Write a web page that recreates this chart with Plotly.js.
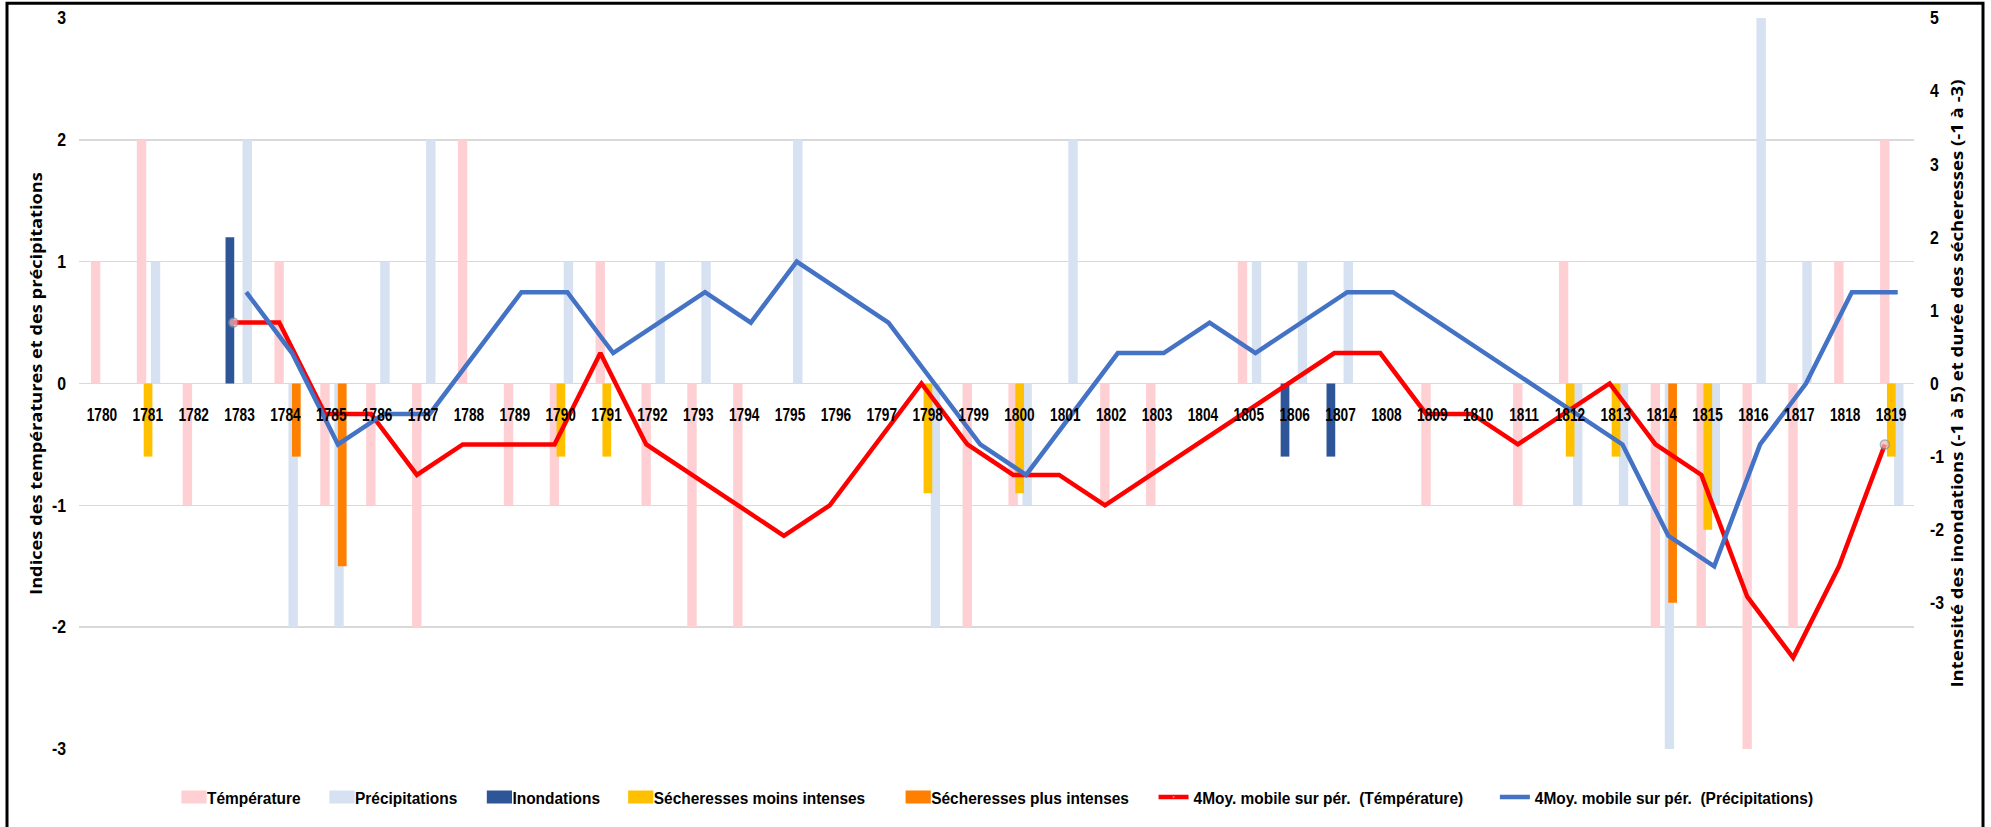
<!DOCTYPE html>
<html>
<head>
<meta charset="utf-8">
<script src="https://cdn.plot.ly/plotly-3.0.1.min.js"></script>
<style>
html, body { margin: 0; padding: 0; background: #ffffff; }
#chart { width: 1991px; height: 827px; }
</style>
</head>
<body>
<div id="chart"></div>
<script>
// ---- Data ----
const years = ['1780','1781','1782','1783','1784','1785','1786','1787','1788','1789',
               '1790','1791','1792','1793','1794','1795','1796','1797','1798','1799',
               '1800','1801','1802','1803','1804','1805','1806','1807','1808','1809',
               '1810','1811','1812','1813','1814','1815','1816','1817','1818','1819'];

const temperature = [1, 2, -1, 0, 1, -1, -1, -2, 2, -1,
                     -1, 1, -1, -2, -2, 0, 0, 0, 0, -2,
                     -1, 0, -1, -1, 0, 1, 0, 0, 0, -1,
                     0, -1, 1, 0, -2, -2, -3, -2, 1, 2];

const precipitation = [0, 1, 0, 2, -2, -2, 1, 2, 0, 0,
                       1, 0, 1, 1, 0, 2, 0, 0, -2, 0,
                       -1, 2, 0, 0, 0, 1, 1, 1, 0, 0,
                       0, 0, -1, -1, -3, -1, 3, 1, 0, -1];

const inondations = [null, null, null, 2, null, null, null, null, null, null,
                     null, null, null, null, null, null, null, null, null, null,
                     null, null, null, null, null, null, -1, -1, null, null,
                     null, null, null, null, null, null, null, null, null, null];

const secheressesMoins = [null, -1, null, null, null, null, null, null, null, null,
                          -1, -1, null, null, null, null, null, null, -1.5, null,
                          -1.5, null, null, null, null, null, null, null, null, null,
                          null, null, -1, -1, null, -2, null, null, null, -1];

const secheressesPlus = [null, null, null, null, -1, -2.5, null, null, null, null,
                         null, null, null, null, null, null, null, null, null, null,
                         null, null, null, null, null, null, null, null, null, null,
                         null, null, null, null, -3, null, null, null, null, null];

const moyTemperature = [null, null, null, 0.5, 0.5, -0.25, -0.25, -0.75, -0.5, -0.5,
                        -0.5, 0.25, -0.5, -0.75, -1, -1.25, -1, -0.5, 0, -0.5,
                        -0.75, -0.75, -1, -0.75, -0.5, -0.25, 0, 0.25, 0.25, -0.25,
                        -0.25, -0.5, -0.25, 0, -0.5, -0.75, -1.75, -2.25, -1.5, -0.5];

const moyPrecipitation = [null, null, null, 0.75, 0.25, -0.5, -0.25, -0.25, 0.25, 0.75,
                          0.75, 0.25, 0.5, 0.75, 0.5, 1, 0.75, 0.5, 0, -0.5,
                          -0.75, -0.25, 0.25, 0.25, 0.5, 0.25, 0.5, 0.75, 0.75, 0.5,
                          0.25, 0, -0.25, -0.5, -1.25, -1.5, -0.5, 0, 0.75, 0.75];

const leftTickVals = [-3, -2, -1, 0, 1, 2, 3];
const leftTickText = ['-3', '-2', '-1', '0', '1', '2', '3'];
const rightTickVals = [-3, -2, -1, 0, 1, 2, 3, 4, 5];
const rightTickText = ['-3', '-2', '-1', '0', '1', '2', '3', '4', '5'];

// ---- Styles ----
const sans = '"Liberation Sans", Arial, sans-serif';
const titleFont = { family: '"Open Sans", "DejaVu Sans", sans-serif', size: 16, color: '#000', weight: 'bold' };

const firstIdx = moyTemperature.findIndex(v => v !== null);
const lastIdx = moyTemperature.length - 1;
const endMarkerSize = moyTemperature.map((v, i) => (i === firstIdx || i === lastIdx) ? 9 : 0);
const endMarkerLine = moyTemperature.map((v, i) => (i === firstIdx || i === lastIdx) ? 1.5 : 0);

const traces = [
  { type: 'bar', name: 'Témpérature', x: years, y: temperature, xaxis: 'x', yaxis: 'y',
    offset: -0.24, width: 0.205, marker: { color: '#FFD0D3', line: { width: 0 } } },
  { type: 'bar', name: 'Précipitations', x: years, y: precipitation, xaxis: 'x', yaxis: 'y',
    offset: 0.066, width: 0.205, marker: { color: '#D6E1F2', line: { width: 0 } } },
  { type: 'bar', name: 'Inondations', x: years, y: inondations, xaxis: 'x', yaxis: 'y2',
    offset: -0.306, width: 0.19, marker: { color: '#2E5597', line: { width: 0 } } },
  { type: 'bar', name: 'Sécheresses moins intenses', x: years, y: secheressesMoins, xaxis: 'x', yaxis: 'y2',
    offset: -0.09, width: 0.19, marker: { color: '#FFC000', line: { width: 0 } } },
  { type: 'bar', name: 'Sécheresses plus intenses', x: years, y: secheressesPlus, xaxis: 'x', yaxis: 'y2',
    offset: 0.143, width: 0.19, marker: { color: '#FF7F00', line: { width: 0 } } },
  { type: 'scatter', mode: 'lines+markers', name: '4Moy. mobile sur pér.  (Témpérature)',
    x: years, y: moyTemperature, xaxis: 'x2', yaxis: 'y',
    line: { color: '#FF0000', width: 4.5 },
    marker: { size: endMarkerSize, color: '#F2B8B8', line: { color: '#7F8FA6', width: endMarkerLine } } },
  { type: 'scatter', mode: 'lines', name: '4Moy. mobile sur pér.  (Précipitations)',
    x: years, y: moyPrecipitation, xaxis: 'x3', yaxis: 'y',
    line: { color: '#4472C4', width: 4.5 } }
];

const plotL = 79, plotR = 1914, plotT = 18, plotB = 757;
const pw = plotR - plotL, ph = plotB - plotT;

const layout = {
  width: 1991, height: 827,
  margin: { l: plotL, r: 1991 - plotR, t: plotT, b: 827 - plotB, pad: 0 },
  paper_bgcolor: '#ffffff', plot_bgcolor: '#ffffff',
  barmode: 'overlay',
  showlegend: true,
  xaxis: {
    type: 'category', range: [-0.5, 39.5], anchor: 'free', position: 0.5,
    showgrid: false, zeroline: false, showline: false, ticks: '',
    tickfont: { family: sans, size: 18, color: '#000', weight: 'bold' },
    ticklabelstandoff: 19, tickangle: 0
  },
  xaxis2: { type: 'category', overlaying: 'x', anchor: 'y', range: [-0.5 + 0.135, 39.5 + 0.135], visible: false },
  xaxis3: { type: 'category', overlaying: 'x', anchor: 'y', range: [-0.5 - 0.145, 39.5 - 0.145], visible: false },
  yaxis: {
    range: [-3, 3], tickmode: 'array', tickvals: leftTickVals, ticktext: leftTickText,
    showgrid: true, gridcolor: '#D9D9D9', gridwidth: 1.5, zeroline: false, showline: false, ticks: '',
    tickfont: { family: sans, size: 18, color: '#000', weight: 'bold' },
    ticklabelstandoff: 12,
    title: { text: 'Indices des températures et des précipitations', font: titleFont, standoff: 3 }
  },
  yaxis2: {
    range: [-5, 5], tickmode: 'array', tickvals: rightTickVals, ticktext: rightTickText,
    overlaying: 'y', side: 'right', anchor: 'x',
    showgrid: false, zeroline: false, showline: false, ticks: '',
    tickfont: { family: sans, size: 18, color: '#000', weight: 'bold' },
    ticklabelstandoff: 15,
    title: { text: 'Intensité des inondations (-1 à 5) et durée des sécheresses (-1 à -3)', font: titleFont, standoff: 0 }
  },
  legend: {
    orientation: 'h', x: 0.5 + 10 / pw, xanchor: 'center', y: (plotB - 806) / ph, yanchor: 'middle',
    font: { family: sans, size: 17, color: '#000', weight: 'bold' },
    bgcolor: 'rgba(0,0,0,0)', traceorder: 'normal', itemwidth: 30
  },
  shapes: [{
    type: 'rect', xref: 'paper', yref: 'paper',
    x0: (7 - plotL) / pw, x1: (1983 - plotL) / pw,
    y0: (plotB - 845) / ph, y1: (plotB - 3) / ph,
    line: { color: '#000000', width: 3 }, fillcolor: 'rgba(0,0,0,0)', layer: 'above'
  }]
};

// Condense / stretch real SVG text along its reading direction, around its anchor point
function stretchText(selector, s) {
  document.querySelectorAll(selector).forEach(el => {
    const x0 = parseFloat(el.getAttribute('x')) || 0;
    const y0 = parseFloat(el.getAttribute('y')) || 0;
    const prev = el.getAttribute('transform') || '';
    el.setAttribute('transform', prev + ' translate(' + x0 + ',' + y0 + ') scale(' + s + ',1) translate(' + (-x0) + ',' + (-y0) + ')');
  });
}

Plotly.newPlot('chart', traces, layout, { staticPlot: true, displayModeBar: false }).then(() => {
  stretchText('#chart .xtick text', 0.76);
  stretchText('#chart .ytick text', 0.88);
  stretchText('#chart .y2tick text', 0.88);
  stretchText('#chart .legendtext', 0.91);
  stretchText('#chart .ytitle', 1.14);
  stretchText('#chart .y2title', 1.16);
  // widen the bar swatches of the legend (Excel-like rectangular keys next to the text)
  document.querySelectorAll('#chart .legend .traces').forEach(g => {
    g.querySelectorAll('.legendpoints path').forEach(p => {
      const d = p.getAttribute('d') || '';
      if (d.indexOf('H') >= 0 && d.indexOf('V') >= 0) {
        p.setAttribute('transform', 'translate(27,0) scale(2.1,1.1)');
      }
    });
  });
});
</script>
</body>
</html>
